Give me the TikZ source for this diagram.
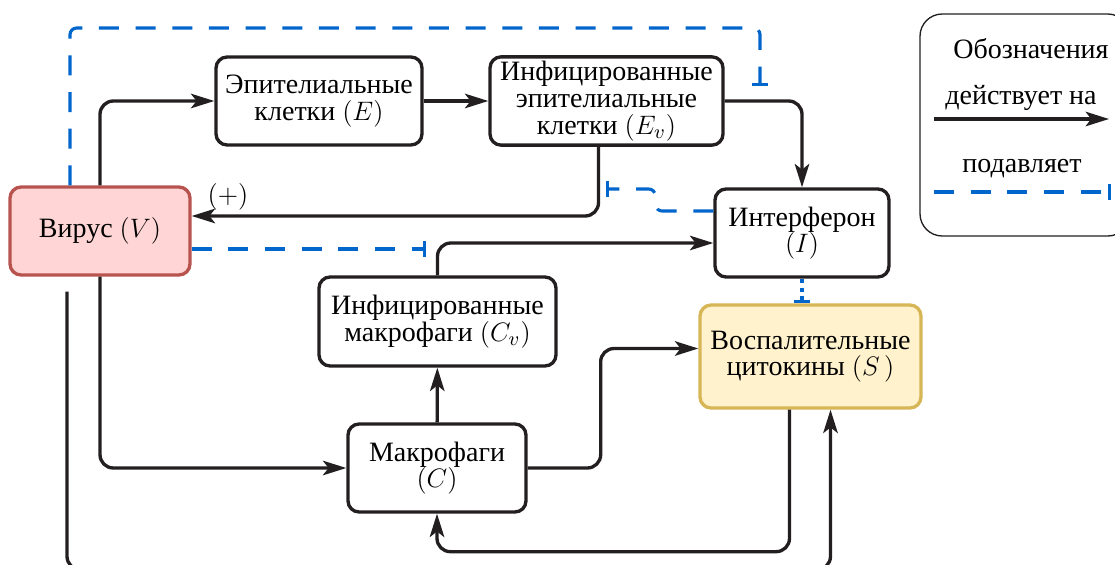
\documentclass[tikz,border=0pt]{standalone}
\usepackage{color}
\usepackage{amsmath}
\usepackage{amssymb}
\usepackage{fontspec}
\setmainfont{Liberation Serif}
\usepackage{tikz}
\usetikzlibrary{arrows.meta,calc}

\definecolor{inkline}{HTML}{231F20}
\definecolor{supblue}{HTML}{0066CC}
\definecolor{virusfill}{HTML}{FFD5D5}
\definecolor{virusline}{HTML}{B85450}
\definecolor{cytofill}{HTML}{FFF2CC}
\definecolor{cytoline}{HTML}{D6B656}
\newcommand{\pxu}{0.45pt}

\begin{document}
\begin{tikzpicture}[x=\pxu,y=-\pxu,font=\fontsize{12.6}{12}\selectfont]
\tikzset{block/.style = {draw=inkline, line width=1.5pt, rounded corners=5pt, align=center, inner sep=2pt}}
\tikzset{virus/.style = {draw=virusline, fill=virusfill}}
\tikzset{cyto/.style = {draw=cytoline, fill=cytofill}}
\tikzset{act/.style = {draw=inkline, line width=1.5pt, rounded corners=6pt, -{Stealth[length=10.5pt,width=6.5pt,inset=2.5pt]}}}
\tikzset{sup/.style = {draw=supblue, line width=1.4pt, rounded corners=3pt, dash pattern=on 9pt off 7.5pt, -{Bar[width=7pt]}}}
\tikzset{supdot/.style = {draw=supblue, line width=1.4pt, dash pattern=on 2pt off 2pt, -{Bar[width=7pt]}}}
\clip (0,0) rectangle (1115,564);
% vertices
\node[block, virus, minimum width=180*\pxu, minimum height=88*\pxu] (V) at (100,231) {Вирус $(V)$};
\node[block, minimum width=206*\pxu, minimum height=88*\pxu] (E) at (319,101) {Эпителиальные\\клетки $(E)$};
\node[block, minimum width=233*\pxu, minimum height=88*\pxu] (Ev) at (606.5,101) {Инфицированные\\эпителиальные\\клетки $(E_v)$};
\node[block, minimum width=174*\pxu, minimum height=88*\pxu] (I) at (802,233) {Интерферон\\$(I)$};
\node[block, minimum width=237*\pxu, minimum height=89*\pxu] (Cv) at (437.5,321.5) {Инфицированные\\макрофаги $(C_v)$};
\node[block, minimum width=178*\pxu, minimum height=88*\pxu] (C) at (437,468) {Макрофаги\\$(C)$};
\node[block, cyto, minimum width=221*\pxu, minimum height=103*\pxu] (S) at (810.5,356.5) {Воспалительные\\цитокины $(S\,)$};
\node (plus) at (228,197) {$(+)$};
% ends of suppression lines
\coordinate (supE) at (760,86);
\coordinate (supV) at (606,189);
\coordinate (supCv) at (426,249);
%edges
\draw[act] (V.north) |- (E.west);
\draw[act] (E) -- (Ev);
\draw[act] (Ev.east) -| (I.north);
\draw[act] ($(Ev.south)+(-8,0)$) |- ($(V.east)+(0,-15)$);
\draw[act] (V.south) |- (C.west);
\draw[act] (C) -- (Cv);
\draw[act] (Cv.north) |- ($(I.west)+(0,10)$);
\draw[act] (C.east) -- ++(73,0) |- ($(S.west)+(0,-8)$);
\draw[act] ($(S.south)+(-21,0)$) -- ++(0,142) -| (C.south);
\draw[act] ($(V.south)+(-33,15)$) -- ++(0,278) -| ($(S.south)+(20,0)$);
\draw[sup] ($(V.north)+(-30,0)$) |- ($(supE)+(0,-58)$) -- (supE);
\draw[sup] ($(I.west)+(0,-22)$) -- ++(-58,0) |- (supV);
\draw[sup] ($(V.east)+(0,18)$) -- (supCv);
\draw[supdot] (I.south) -- (I.south |- S.north);
% legend
\node[draw=inkline, line width=0.6pt, rounded corners=10pt, minimum width=210*\pxu, minimum height=222*\pxu] (legend) at (1025,125) {};
\node (lgtitle) at (1031,49) {Обозначения};
\node (lgact) at (1021,98) {действует на};
\node (lgsup) at (1022,169) {подавляет};
\coordinate (la) at (934,119);
\coordinate (lb) at (1109,119);
\coordinate (lc) at (934,192);
\coordinate (ld) at (1111,192);
\draw[act] (la) -- (lb);
\draw[sup] (lc) -- (ld);
\end{tikzpicture}
\end{document}
